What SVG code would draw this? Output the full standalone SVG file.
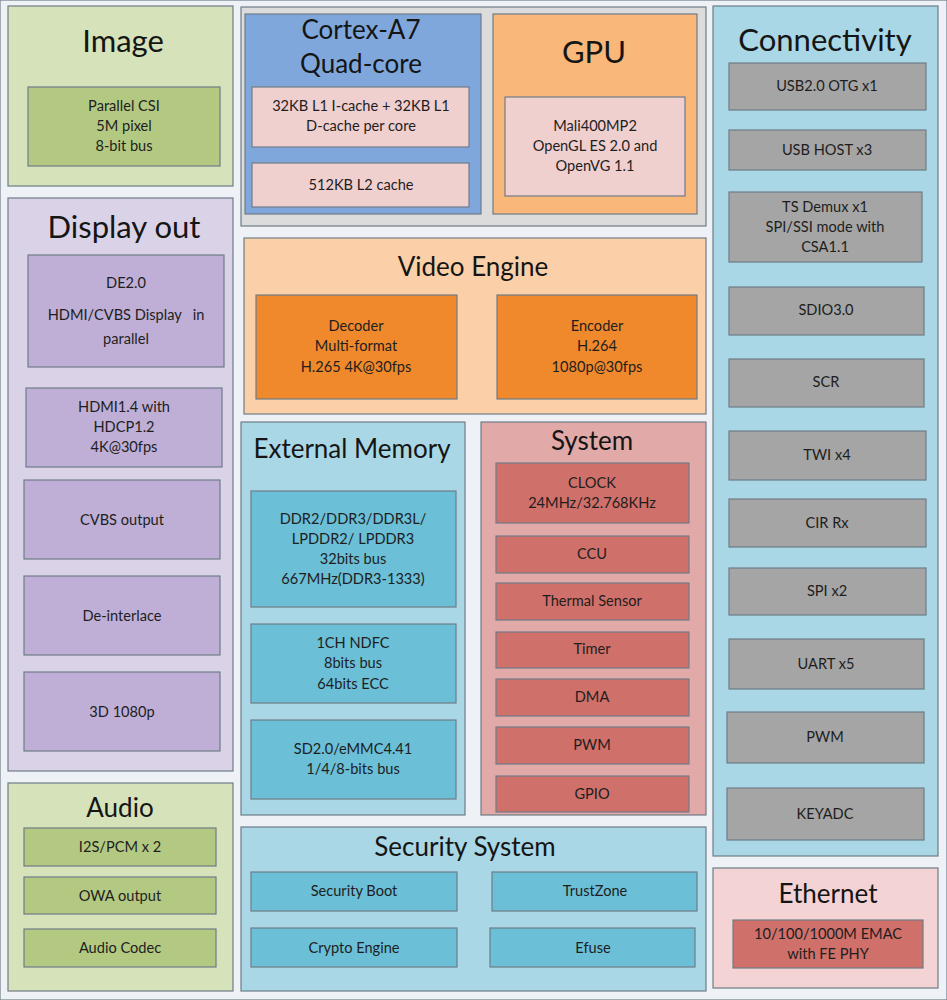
<svg xmlns="http://www.w3.org/2000/svg" width="947" height="1000" viewBox="0 0 947 1000">
<style>
text{font-family:Lato,"Open Sans","Liberation Sans",sans-serif;fill:#151515;text-anchor:middle}
.t{font-size:31px}
.m{font-size:26px}
.s{font-size:14.6px;fill:#1e1e1e}
rect{stroke:#6f7c88;stroke-width:1.2}
.green{fill:#d6e2b9}
.green2{fill:#b3c982}
.lav{fill:#dad3e7}
.lav2{fill:#bfafd6}
.gray{fill:#dcdcdc}
.blue{fill:#7fa7dc}
.pink{fill:#f0cfcf}
.orange{fill:#f9b77a}
.peach{fill:#fbd0a8}
.orange2{fill:#f0892c}
.cyan{fill:#a9d7e5}
.cyan2{fill:#6bbfd6}
.rose{fill:#e2a9a9}
.red{fill:#d0706a}
.gray2{fill:#a5a5a5}
.epink{fill:#f3d3d3}
</style>
<rect x="0" y="0" width="947" height="1000" fill="#eef2f7" stroke="none"/>

<g id="image">
<rect class="green" x="8" y="6" width="225" height="180"/>
<text class="t" x="123" y="52">Image</text>
<rect class="green2" x="28" y="87" width="192" height="79"/>
<text class="s" x="124" y="111">Parallel CSI</text>
<text class="s" x="124" y="131">5M pixel</text>
<text class="s" x="124" y="151">8-bit bus</text>
</g>

<g id="cpu-group">
<rect class="gray" x="241" y="7" width="465" height="219"/>
</g>

<g id="cortex">
<rect class="blue" x="245" y="14" width="236" height="200"/>
<text class="m" x="361" y="39">Cortex-A7</text>
<text class="m" x="361" y="73">Quad-core</text>
<rect class="pink" x="252" y="87" width="217" height="60"/>
<text class="s" x="361" y="111">32KB L1 I-cache + 32KB L1</text>
<text class="s" x="361" y="131">D-cache per core</text>
<rect class="pink" x="252" y="163" width="217" height="44"/>
<text class="s" x="361" y="190">512KB L2 cache</text>
</g>

<g id="gpu">
<rect class="orange" x="493" y="14" width="204" height="200"/>
<text class="t" x="594" y="63">GPU</text>
<rect class="pink" x="505" y="97" width="180" height="99"/>
<text class="s" x="595" y="131">Mali400MP2</text>
<text class="s" x="595" y="151">OpenGL ES 2.0 and</text>
<text class="s" x="595" y="171">OpenVG 1.1</text>
</g>

<g id="connectivity">
<rect class="cyan" x="713" y="6" width="225" height="850"/>
<text class="t" x="825" y="51">Connectivity</text>
<rect class="gray2" x="729" y="63" width="197" height="47"/>
<text class="s" x="827" y="91">USB2.0 OTG x1</text>
<rect class="gray2" x="729" y="130" width="197" height="40"/>
<text class="s" x="827" y="155">USB HOST x3</text>
<rect class="gray2" x="729" y="192" width="193" height="70"/>
<text class="s" x="825" y="212">TS Demux x1</text>
<text class="s" x="825" y="232">SPI/SSI mode with</text>
<text class="s" x="825" y="252">CSA1.1</text>
<rect class="gray2" x="729" y="287" width="195" height="48"/>
<text class="s" x="826" y="315">SDIO3.0</text>
<rect class="gray2" x="729" y="359" width="195" height="48"/>
<text class="s" x="826" y="387">SCR</text>
<rect class="gray2" x="729" y="431" width="197" height="49"/>
<text class="s" x="827" y="460">TWI x4</text>
<rect class="gray2" x="729" y="499" width="197" height="48"/>
<text class="s" x="827" y="528">CIR Rx</text>
<rect class="gray2" x="729" y="568" width="197" height="47"/>
<text class="s" x="827" y="596">SPI x2</text>
<rect class="gray2" x="729" y="639" width="195" height="50"/>
<text class="s" x="826" y="669">UART x5</text>
<rect class="gray2" x="727" y="712" width="197" height="51"/>
<text class="s" x="825" y="742">PWM</text>
<rect class="gray2" x="727" y="788" width="197" height="52"/>
<text class="s" x="825" y="819">KEYADC</text>
</g>

<g id="display-out">
<rect class="lav" x="8" y="198" width="225" height="573"/>
<text class="t" x="124" y="238">Display out</text>
<rect class="lav2" x="28" y="255" width="196" height="112"/>
<text class="s" x="126" y="288">DE2.0</text>
<text class="s" x="126" y="320" xml:space="preserve">HDMI/CVBS Display   in</text>
<text class="s" x="126" y="344">parallel</text>
<rect class="lav2" x="26" y="388" width="196" height="79"/>
<text class="s" x="124" y="412">HDMI1.4 with</text>
<text class="s" x="124" y="432">HDCP1.2</text>
<text class="s" x="124" y="452">4K@30fps</text>
<rect class="lav2" x="24" y="480" width="196" height="79"/>
<text class="s" x="122" y="525">CVBS output</text>
<rect class="lav2" x="24" y="576" width="196" height="79"/>
<text class="s" x="122" y="621">De-interlace</text>
<rect class="lav2" x="24" y="672" width="196" height="79"/>
<text class="s" x="122" y="717">3D 1080p</text>
</g>

<g id="video-engine">
<rect class="peach" x="244" y="238" width="462" height="176"/>
<text class="m" x="473" y="276">Video Engine</text>
<rect class="orange2" x="256" y="295" width="201" height="104"/>
<text class="s" x="356" y="331">Decoder</text>
<text class="s" x="356" y="351">Multi-format</text>
<text class="s" x="356" y="372">H.265 4K@30fps</text>
<rect class="orange2" x="497" y="295" width="200" height="104"/>
<text class="s" x="597" y="331">Encoder</text>
<text class="s" x="597" y="351">H.264</text>
<text class="s" x="597" y="372">1080p@30fps</text>
</g>

<g id="external-memory">
<rect class="cyan" x="241" y="422" width="224" height="393"/>
<text class="m" x="352" y="458">External Memory</text>
<rect class="cyan2" x="251" y="491" width="205" height="116"/>
<text class="s" x="353" y="524">DDR2/DDR3/DDR3L/</text>
<text class="s" x="353" y="544">LPDDR2/ LPDDR3</text>
<text class="s" x="353" y="564">32bits bus</text>
<text class="s" x="353" y="584">667MHz(DDR3-1333)</text>
<rect class="cyan2" x="251" y="624" width="205" height="79"/>
<text class="s" x="353" y="648">1CH NDFC</text>
<text class="s" x="353" y="668">8bits bus</text>
<text class="s" x="353" y="689">64bits ECC</text>
<rect class="cyan2" x="251" y="720" width="205" height="79"/>
<text class="s" x="353" y="754">SD2.0/eMMC4.41</text>
<text class="s" x="353" y="774">1/4/8-bits bus</text>
</g>

<g id="system">
<rect class="rose" x="481" y="422" width="225" height="393"/>
<text class="m" x="592" y="450">System</text>
<rect class="red" x="496" y="463" width="193" height="60"/>
<text class="s" x="592" y="488">CLOCK</text>
<text class="s" x="592" y="508">24MHz/32.768KHz</text>
<rect class="red" x="496" y="536" width="193" height="37"/>
<text class="s" x="592" y="559">CCU</text>
<rect class="red" x="496" y="583" width="193" height="37"/>
<text class="s" x="592" y="606">Thermal Sensor</text>
<rect class="red" x="496" y="632" width="193" height="36"/>
<text class="s" x="592" y="654">Timer</text>
<rect class="red" x="496" y="679" width="193" height="37"/>
<text class="s" x="592" y="702">DMA</text>
<rect class="red" x="496" y="727" width="193" height="37"/>
<text class="s" x="592" y="750">PWM</text>
<rect class="red" x="496" y="776" width="193" height="36"/>
<text class="s" x="592" y="799">GPIO</text>
</g>

<g id="audio">
<rect class="green" x="8" y="783" width="225" height="208"/>
<text class="m" x="120" y="817">Audio</text>
<rect class="green2" x="24" y="828" width="192" height="38"/>
<text class="s" x="120" y="852">I2S/PCM x 2</text>
<rect class="green2" x="24" y="877" width="192" height="37"/>
<text class="s" x="120" y="901">OWA output</text>
<rect class="green2" x="24" y="929" width="192" height="38"/>
<text class="s" x="120" y="953">Audio Codec</text>
</g>

<g id="security-system">
<rect class="cyan" x="241" y="827" width="465" height="164"/>
<text class="m" x="465" y="856">Security System</text>
<rect class="cyan2" x="251" y="872" width="206" height="39"/>
<text class="s" x="354" y="896">Security Boot</text>
<rect class="cyan2" x="492" y="872" width="205" height="39"/>
<text class="s" x="595" y="896">TrustZone</text>
<rect class="cyan2" x="251" y="928" width="206" height="39"/>
<text class="s" x="354" y="953">Crypto Engine</text>
<rect class="cyan2" x="490" y="928" width="205" height="39"/>
<text class="s" x="593" y="953">Efuse</text>
</g>

<g id="ethernet">
<rect class="epink" x="713" y="868" width="225" height="120"/>
<text class="m" x="828" y="903">Ethernet</text>
<rect class="red" x="733" y="920" width="190" height="48"/>
<text class="s" x="828" y="939">10/100/1000M EMAC</text>
<text class="s" x="828" y="959">with FE PHY</text>
</g>

<g id="connectors"></g>
</svg>
